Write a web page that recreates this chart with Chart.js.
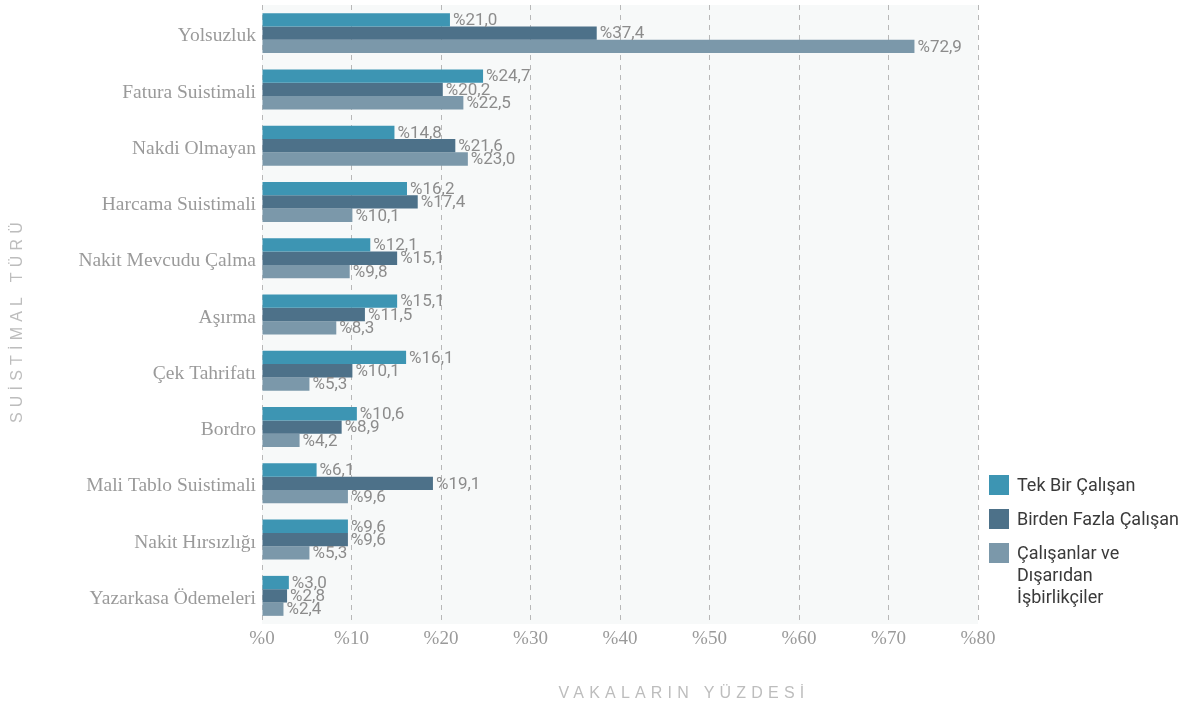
<!DOCTYPE html>
<html>
<head>
<meta charset="utf-8">
<script src="https://cdn.jsdelivr.net/npm/chart.js@4"></script>
<style>
  body { margin: 0; background: #fff; }
  #wrap { position: relative; width: 1185px; height: 709px; }
  #legend { position: absolute; left: 989px; top: 475px; font-family: "Roboto", sans-serif; font-size: 18px; color: #3a3a3a; }
  .item { display: flex; align-items: flex-start; margin-bottom: 13px; }
  .sw { width: 20px; height: 20px; margin-right: 8px; flex: none; }
  .txt { line-height: 22px; margin-top: -1px; }
</style>
</head>
<body>
<div id="wrap">
  <canvas id="chart" width="1185" height="709"></canvas>
  <div id="legend"></div>
</div>
<script>
const categories = [
  "Yolsuzluk", "Fatura Suistimali", "Nakdi Olmayan", "Harcama Suistimali",
  "Nakit Mevcudu Çalma", "Aşırma", "Çek Tahrifatı", "Bordro",
  "Mali Tablo Suistimali", "Nakit Hırsızlığı", "Yazarkasa Ödemeleri"
];
const tekBir = [21.0, 24.7, 14.8, 16.2, 12.1, 15.1, 16.1, 10.6, 6.1, 9.6, 3.0];
const birdenFazla = [37.4, 20.2, 21.6, 17.4, 15.1, 11.5, 10.1, 8.9, 19.1, 9.6, 2.8];
const isbirlikci = [72.9, 22.5, 23.0, 10.1, 9.8, 8.3, 5.3, 4.2, 9.6, 5.3, 2.4];
const seriesNames = ["Tek Bir Çalışan", "Birden Fazla Çalışan", "Çalışanlar ve<br>Dışarıdan<br>İşbirlikçiler"];
const colors = ["#3d95b3", "#4d7189", "#7b98aa"];

const fmt = v => "%" + v.toFixed(1).replace(".", ",");

// plot background + axis titles
const decor = {
  id: "decor",
  beforeDraw(chart) {
    const { ctx, chartArea: a } = chart;
    ctx.save();
    ctx.fillStyle = "#f7f9f9";
    ctx.fillRect(a.left, a.top, a.right - a.left, a.bottom - a.top);
    ctx.restore();
  },
  afterDraw(chart) {
    const ctx = chart.ctx;
    ctx.save();
    ctx.fillStyle = "#bdbdbd";
    ctx.font = '16px "Liberation Sans", sans-serif';
    ctx.letterSpacing = "5.2px";
    ctx.textAlign = "center";
    ctx.textBaseline = "middle";
    ctx.fillText("VAKALARIN YÜZDESİ", 684, 694);
    ctx.translate(18, 320);
    ctx.rotate(-Math.PI / 2);
    ctx.letterSpacing = "5.2px";
    ctx.fillText("SUİSTİMAL TÜRÜ", 0, 0);
    ctx.restore();
  }
};

// value labels at the end of each bar
const valueLabels = {
  id: "valueLabels",
  afterDatasetsDraw(chart) {
    const ctx = chart.ctx;
    ctx.save();
    ctx.fillStyle = "#8c8c8c";
    ctx.font = '17px "Roboto", sans-serif';
    ctx.textBaseline = "middle";
    chart.data.datasets.forEach((ds, i) => {
      chart.getDatasetMeta(i).data.forEach((bar, j) => {
        ctx.fillText(fmt(ds.data[j]), bar.x + 3, bar.y + 1);
      });
    });
    ctx.restore();
  }
};

new Chart(document.getElementById("chart"), {
  type: "bar",
  data: {
    labels: categories,
    datasets: [tekBir, birdenFazla, isbirlikci].map((d, i) => ({
      label: seriesNames[i],
      data: d,
      backgroundColor: colors[i],
      categoryPercentage: 0.71,
      barPercentage: 1.0
    }))
  },
  options: {
    indexAxis: "y",
    responsive: false,
    animation: false,
    layout: { padding: { top: 5, right: 207, left: 0, bottom: 0 } },
    plugins: { legend: { display: false }, tooltip: { enabled: false } },
    scales: {
      x: {
        min: 0,
        max: 80,
        ticks: {
          stepSize: 10,
          padding: 4,
          color: "#9a9a9a",
          font: { family: '"Liberation Serif", serif', size: 19 },
          callback: v => "%" + v
        },
        grid: { color: "#b8b8b8", drawTicks: false, lineWidth: 1 },
        border: { display: false, dash: [5, 5] },
        afterFit: s => { s.height = 85; s.paddingLeft = 0; s.paddingRight = 0; }
      },
      y: {
        ticks: {
          padding: 6,
          labelOffset: 3,
          color: "#9a9a9a",
          font: { family: '"Liberation Serif", serif', size: 19.5 }
        },
        grid: { display: false, drawTicks: false },
        border: { display: false },
        afterFit: s => { s.width = 262; s.paddingTop = 0; s.paddingBottom = 0; }
      }
    }
  },
  plugins: [decor, valueLabels]
});

document.getElementById("legend").innerHTML = seriesNames.map((n, i) =>
  `<div class="item"><div class="sw" style="background:${colors[i]}"></div><div class="txt">${n}</div></div>`
).join("");
</script>
</body>
</html>
